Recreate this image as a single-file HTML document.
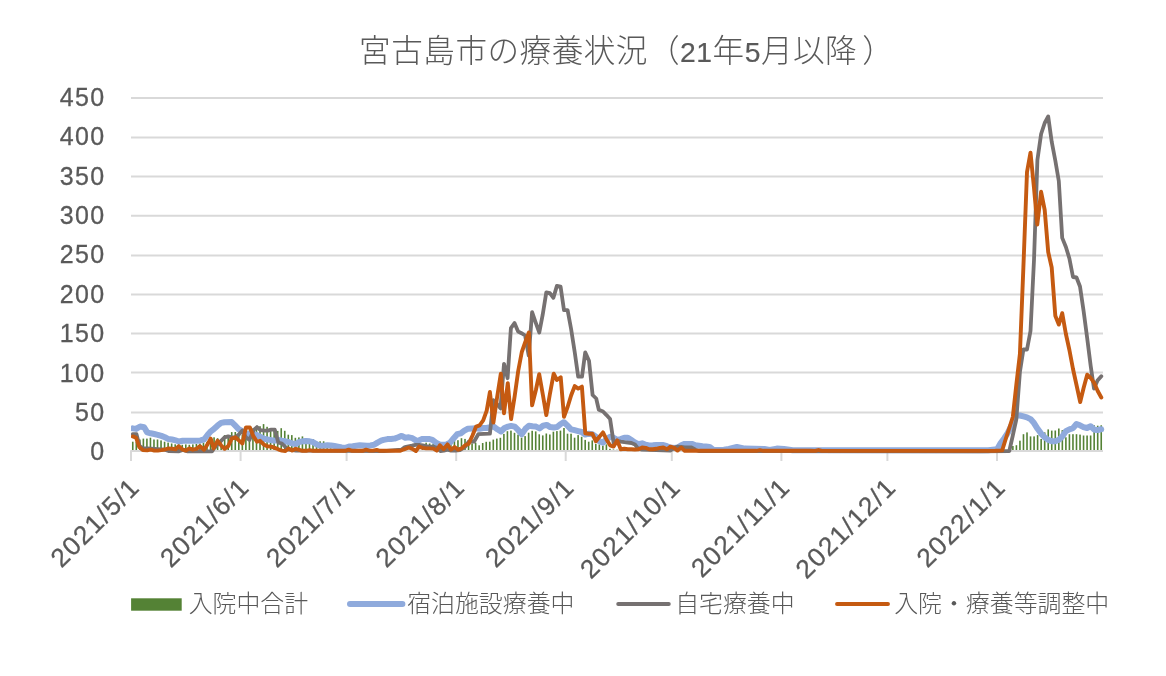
<!DOCTYPE html>
<html lang="ja"><head><meta charset="utf-8"><title>宮古島市の療養状況</title>
<style>
html,body{margin:0;padding:0;background:#fff;}
body{width:1166px;height:676px;overflow:hidden;}
svg{display:block;will-change:transform;}
text{font-family:"Liberation Sans","Noto Sans CJK JP",sans-serif;fill:#595959;}
.jp{font-family:"Liberation Sans","Noto Sans CJK JP",sans-serif;font-weight:300;}
.num{font-family:"Liberation Sans","Noto Sans CJK JP",sans-serif;font-weight:400;}
</style></head><body>
<svg width="1166" height="676" viewBox="0 0 1166 676">

<g stroke="#d9d9d9" stroke-width="2" fill="none">
<line x1="131.0" y1="98.0" x2="1103.0" y2="98.0"/>
<line x1="131.0" y1="137.4" x2="1103.0" y2="137.4"/>
<line x1="131.0" y1="176.5" x2="1103.0" y2="176.5"/>
<line x1="131.0" y1="215.7" x2="1103.0" y2="215.7"/>
<line x1="131.0" y1="255.4" x2="1103.0" y2="255.4"/>
<line x1="131.0" y1="294.6" x2="1103.0" y2="294.6"/>
<line x1="131.0" y1="333.5" x2="1103.0" y2="333.5"/>
<line x1="131.0" y1="372.5" x2="1103.0" y2="372.5"/>
<line x1="131.0" y1="412.5" x2="1103.0" y2="412.5"/>
</g>
<g fill="#548235">
<rect x="131.97" y="441.7" width="1.6" height="8.6"/>
<rect x="135.50" y="441.7" width="1.6" height="8.6"/>
<rect x="139.04" y="439.5" width="1.6" height="10.8"/>
<rect x="142.57" y="438.6" width="1.6" height="11.7"/>
<rect x="146.11" y="438.6" width="1.6" height="11.7"/>
<rect x="149.64" y="437.7" width="1.6" height="12.6"/>
<rect x="153.17" y="439.5" width="1.6" height="10.8"/>
<rect x="156.71" y="439.5" width="1.6" height="10.8"/>
<rect x="160.24" y="440.4" width="1.6" height="9.9"/>
<rect x="163.78" y="441.7" width="1.6" height="8.6"/>
<rect x="167.31" y="442.6" width="1.6" height="7.7"/>
<rect x="170.85" y="443.5" width="1.6" height="6.8"/>
<rect x="174.38" y="444.3" width="1.6" height="6.0"/>
<rect x="177.92" y="444.4" width="1.6" height="5.9"/>
<rect x="181.45" y="444.8" width="1.6" height="5.5"/>
<rect x="184.99" y="444.4" width="1.6" height="5.9"/>
<rect x="188.52" y="444.8" width="1.6" height="5.5"/>
<rect x="192.05" y="444.4" width="1.6" height="5.9"/>
<rect x="195.59" y="444.0" width="1.6" height="6.3"/>
<rect x="199.12" y="443.5" width="1.6" height="6.8"/>
<rect x="202.66" y="442.7" width="1.6" height="7.6"/>
<rect x="206.19" y="441.8" width="1.6" height="8.5"/>
<rect x="209.73" y="438.5" width="1.6" height="11.8"/>
<rect x="213.26" y="437.3" width="1.6" height="13.0"/>
<rect x="216.80" y="438.2" width="1.6" height="12.1"/>
<rect x="220.33" y="439.0" width="1.6" height="11.3"/>
<rect x="223.87" y="435.1" width="1.6" height="15.2"/>
<rect x="227.40" y="435.5" width="1.6" height="14.8"/>
<rect x="230.93" y="432.1" width="1.6" height="18.2"/>
<rect x="234.47" y="432.0" width="1.6" height="18.3"/>
<rect x="238.00" y="435.4" width="1.6" height="14.9"/>
<rect x="241.54" y="434.7" width="1.6" height="15.6"/>
<rect x="245.07" y="432.1" width="1.6" height="18.2"/>
<rect x="248.61" y="430.3" width="1.6" height="20.0"/>
<rect x="252.14" y="428.5" width="1.6" height="21.8"/>
<rect x="255.68" y="426.7" width="1.6" height="23.6"/>
<rect x="259.21" y="426.2" width="1.6" height="24.1"/>
<rect x="262.75" y="424.1" width="1.6" height="26.2"/>
<rect x="266.28" y="426.8" width="1.6" height="23.5"/>
<rect x="269.81" y="428.3" width="1.6" height="22.0"/>
<rect x="273.35" y="429.2" width="1.6" height="21.1"/>
<rect x="276.88" y="430.9" width="1.6" height="19.4"/>
<rect x="280.42" y="428.2" width="1.6" height="22.1"/>
<rect x="283.95" y="430.8" width="1.6" height="19.5"/>
<rect x="287.49" y="434.7" width="1.6" height="15.6"/>
<rect x="291.02" y="435.1" width="1.6" height="15.2"/>
<rect x="294.56" y="437.8" width="1.6" height="12.5"/>
<rect x="298.09" y="437.4" width="1.6" height="12.9"/>
<rect x="301.63" y="436.4" width="1.6" height="13.9"/>
<rect x="305.16" y="439.0" width="1.6" height="11.3"/>
<rect x="308.69" y="439.5" width="1.6" height="10.8"/>
<rect x="312.23" y="439.1" width="1.6" height="11.2"/>
<rect x="315.76" y="441.6" width="1.6" height="8.7"/>
<rect x="319.30" y="441.3" width="1.6" height="9.0"/>
<rect x="322.83" y="441.3" width="1.6" height="9.0"/>
<rect x="326.37" y="446.0" width="1.6" height="4.3"/>
<rect x="329.90" y="448.3" width="1.6" height="2.0"/>
<rect x="333.44" y="449.6" width="1.6" height="0.7"/>
<rect x="336.97" y="450.2" width="1.6" height="0.1"/>
<rect x="340.51" y="450.2" width="1.6" height="0.1"/>
<rect x="344.04" y="450.2" width="1.6" height="0.1"/>
<rect x="347.57" y="450.2" width="1.6" height="0.1"/>
<rect x="351.11" y="450.2" width="1.6" height="0.1"/>
<rect x="354.64" y="450.2" width="1.6" height="0.1"/>
<rect x="358.18" y="450.2" width="1.6" height="0.1"/>
<rect x="361.71" y="450.2" width="1.6" height="0.1"/>
<rect x="365.25" y="450.2" width="1.6" height="0.1"/>
<rect x="368.78" y="450.2" width="1.6" height="0.1"/>
<rect x="372.32" y="450.2" width="1.6" height="0.1"/>
<rect x="375.85" y="450.2" width="1.6" height="0.1"/>
<rect x="379.39" y="450.2" width="1.6" height="0.1"/>
<rect x="382.92" y="450.2" width="1.6" height="0.1"/>
<rect x="386.45" y="450.2" width="1.6" height="0.1"/>
<rect x="389.99" y="450.2" width="1.6" height="0.1"/>
<rect x="393.52" y="450.2" width="1.6" height="0.1"/>
<rect x="397.06" y="450.2" width="1.6" height="0.1"/>
<rect x="400.59" y="450.2" width="1.6" height="0.1"/>
<rect x="404.13" y="450.2" width="1.6" height="0.1"/>
<rect x="407.66" y="450.2" width="1.6" height="0.1"/>
<rect x="411.20" y="450.2" width="1.6" height="0.1"/>
<rect x="414.73" y="450.2" width="1.6" height="0.1"/>
<rect x="418.27" y="449.9" width="1.6" height="0.4"/>
<rect x="421.80" y="443.9" width="1.6" height="6.4"/>
<rect x="425.33" y="442.7" width="1.6" height="7.6"/>
<rect x="428.87" y="443.5" width="1.6" height="6.8"/>
<rect x="432.40" y="443.9" width="1.6" height="6.4"/>
<rect x="435.94" y="444.4" width="1.6" height="5.9"/>
<rect x="439.47" y="444.4" width="1.6" height="5.9"/>
<rect x="443.01" y="443.5" width="1.6" height="6.8"/>
<rect x="446.54" y="441.8" width="1.6" height="8.5"/>
<rect x="450.08" y="438.3" width="1.6" height="12.0"/>
<rect x="453.61" y="435.2" width="1.6" height="15.1"/>
<rect x="457.15" y="440.2" width="1.6" height="10.1"/>
<rect x="460.68" y="438.2" width="1.6" height="12.1"/>
<rect x="464.21" y="438.9" width="1.6" height="11.4"/>
<rect x="467.75" y="442.7" width="1.6" height="7.6"/>
<rect x="471.28" y="443.4" width="1.6" height="6.9"/>
<rect x="474.82" y="442.7" width="1.6" height="7.6"/>
<rect x="478.35" y="445.3" width="1.6" height="5.0"/>
<rect x="481.89" y="443.0" width="1.6" height="7.3"/>
<rect x="485.42" y="441.8" width="1.6" height="8.5"/>
<rect x="488.96" y="441.7" width="1.6" height="8.6"/>
<rect x="492.49" y="439.6" width="1.6" height="10.7"/>
<rect x="496.03" y="438.6" width="1.6" height="11.7"/>
<rect x="499.56" y="437.8" width="1.6" height="12.5"/>
<rect x="503.09" y="433.9" width="1.6" height="16.4"/>
<rect x="506.63" y="431.2" width="1.6" height="19.1"/>
<rect x="510.16" y="430.6" width="1.6" height="19.7"/>
<rect x="513.70" y="432.8" width="1.6" height="17.5"/>
<rect x="517.23" y="434.6" width="1.6" height="15.7"/>
<rect x="520.77" y="437.7" width="1.6" height="12.6"/>
<rect x="524.30" y="436.1" width="1.6" height="14.2"/>
<rect x="527.84" y="432.7" width="1.6" height="17.6"/>
<rect x="531.37" y="430.8" width="1.6" height="19.5"/>
<rect x="534.91" y="431.4" width="1.6" height="18.9"/>
<rect x="538.44" y="434.3" width="1.6" height="16.0"/>
<rect x="541.97" y="435.4" width="1.6" height="14.9"/>
<rect x="545.51" y="433.5" width="1.6" height="16.8"/>
<rect x="549.04" y="434.5" width="1.6" height="15.8"/>
<rect x="552.58" y="431.7" width="1.6" height="18.6"/>
<rect x="556.11" y="431.1" width="1.6" height="19.2"/>
<rect x="559.65" y="430.6" width="1.6" height="19.7"/>
<rect x="563.18" y="428.0" width="1.6" height="22.3"/>
<rect x="566.72" y="433.7" width="1.6" height="16.6"/>
<rect x="570.25" y="433.7" width="1.6" height="16.6"/>
<rect x="573.79" y="437.7" width="1.6" height="12.6"/>
<rect x="577.32" y="435.1" width="1.6" height="15.2"/>
<rect x="580.85" y="436.8" width="1.6" height="13.5"/>
<rect x="584.39" y="439.9" width="1.6" height="10.4"/>
<rect x="587.92" y="441.7" width="1.6" height="8.6"/>
<rect x="591.46" y="440.4" width="1.6" height="9.9"/>
<rect x="594.99" y="443.9" width="1.6" height="6.4"/>
<rect x="598.53" y="444.4" width="1.6" height="5.9"/>
<rect x="602.06" y="445.7" width="1.6" height="4.6"/>
<rect x="605.60" y="444.4" width="1.6" height="5.9"/>
<rect x="609.13" y="448.8" width="1.6" height="1.5"/>
<rect x="612.67" y="449.5" width="1.6" height="0.8"/>
<rect x="616.20" y="449.7" width="1.6" height="0.6"/>
<rect x="619.73" y="450.1" width="1.6" height="0.2"/>
<rect x="623.27" y="450.2" width="1.6" height="0.1"/>
<rect x="626.80" y="450.2" width="1.6" height="0.1"/>
<rect x="630.34" y="450.2" width="1.6" height="0.1"/>
<rect x="633.87" y="450.2" width="1.6" height="0.1"/>
<rect x="637.41" y="450.2" width="1.6" height="0.1"/>
<rect x="640.94" y="450.2" width="1.6" height="0.1"/>
<rect x="644.48" y="450.2" width="1.6" height="0.1"/>
<rect x="648.01" y="450.2" width="1.6" height="0.1"/>
<rect x="651.55" y="450.2" width="1.6" height="0.1"/>
<rect x="655.08" y="450.2" width="1.6" height="0.1"/>
<rect x="658.61" y="450.2" width="1.6" height="0.1"/>
<rect x="662.15" y="450.2" width="1.6" height="0.1"/>
<rect x="665.68" y="450.2" width="1.6" height="0.1"/>
<rect x="669.22" y="450.2" width="1.6" height="0.1"/>
<rect x="672.75" y="450.2" width="1.6" height="0.1"/>
<rect x="676.29" y="450.2" width="1.6" height="0.1"/>
<rect x="679.82" y="450.2" width="1.6" height="0.1"/>
<rect x="683.36" y="450.2" width="1.6" height="0.1"/>
<rect x="686.89" y="450.2" width="1.6" height="0.1"/>
<rect x="690.43" y="450.2" width="1.6" height="0.1"/>
<rect x="693.96" y="450.2" width="1.6" height="0.1"/>
<rect x="697.49" y="450.2" width="1.6" height="0.1"/>
<rect x="701.03" y="450.2" width="1.6" height="0.1"/>
<rect x="704.56" y="450.2" width="1.6" height="0.1"/>
<rect x="708.10" y="450.2" width="1.6" height="0.1"/>
<rect x="711.63" y="450.2" width="1.6" height="0.1"/>
<rect x="715.17" y="450.2" width="1.6" height="0.1"/>
<rect x="718.70" y="450.2" width="1.6" height="0.1"/>
<rect x="722.24" y="450.2" width="1.6" height="0.1"/>
<rect x="725.77" y="450.2" width="1.6" height="0.1"/>
<rect x="729.31" y="450.2" width="1.6" height="0.1"/>
<rect x="732.84" y="450.2" width="1.6" height="0.1"/>
<rect x="736.37" y="450.2" width="1.6" height="0.1"/>
<rect x="739.91" y="450.2" width="1.6" height="0.1"/>
<rect x="743.44" y="450.2" width="1.6" height="0.1"/>
<rect x="746.98" y="450.2" width="1.6" height="0.1"/>
<rect x="750.51" y="450.2" width="1.6" height="0.1"/>
<rect x="754.05" y="450.2" width="1.6" height="0.1"/>
<rect x="757.58" y="450.2" width="1.6" height="0.1"/>
<rect x="761.12" y="450.2" width="1.6" height="0.1"/>
<rect x="764.65" y="450.2" width="1.6" height="0.1"/>
<rect x="768.19" y="450.2" width="1.6" height="0.1"/>
<rect x="771.72" y="450.2" width="1.6" height="0.1"/>
<rect x="775.25" y="450.2" width="1.6" height="0.1"/>
<rect x="778.79" y="450.2" width="1.6" height="0.1"/>
<rect x="782.32" y="450.2" width="1.6" height="0.1"/>
<rect x="785.86" y="450.2" width="1.6" height="0.1"/>
<rect x="789.39" y="450.2" width="1.6" height="0.1"/>
<rect x="792.93" y="450.2" width="1.6" height="0.1"/>
<rect x="796.46" y="450.2" width="1.6" height="0.1"/>
<rect x="800.00" y="450.2" width="1.6" height="0.1"/>
<rect x="803.53" y="450.2" width="1.6" height="0.1"/>
<rect x="807.07" y="450.2" width="1.6" height="0.1"/>
<rect x="810.60" y="450.2" width="1.6" height="0.1"/>
<rect x="814.13" y="450.2" width="1.6" height="0.1"/>
<rect x="817.67" y="450.2" width="1.6" height="0.1"/>
<rect x="821.20" y="450.2" width="1.6" height="0.1"/>
<rect x="824.74" y="450.2" width="1.6" height="0.1"/>
<rect x="828.27" y="450.2" width="1.6" height="0.1"/>
<rect x="831.81" y="450.2" width="1.6" height="0.1"/>
<rect x="835.34" y="450.2" width="1.6" height="0.1"/>
<rect x="838.88" y="450.2" width="1.6" height="0.1"/>
<rect x="842.41" y="450.2" width="1.6" height="0.1"/>
<rect x="845.95" y="450.2" width="1.6" height="0.1"/>
<rect x="849.48" y="450.2" width="1.6" height="0.1"/>
<rect x="853.01" y="450.2" width="1.6" height="0.1"/>
<rect x="856.55" y="450.2" width="1.6" height="0.1"/>
<rect x="860.08" y="450.2" width="1.6" height="0.1"/>
<rect x="863.62" y="450.2" width="1.6" height="0.1"/>
<rect x="867.15" y="450.2" width="1.6" height="0.1"/>
<rect x="870.69" y="450.2" width="1.6" height="0.1"/>
<rect x="874.22" y="450.2" width="1.6" height="0.1"/>
<rect x="877.76" y="450.2" width="1.6" height="0.1"/>
<rect x="881.29" y="450.2" width="1.6" height="0.1"/>
<rect x="884.83" y="450.2" width="1.6" height="0.1"/>
<rect x="888.36" y="450.2" width="1.6" height="0.1"/>
<rect x="891.89" y="450.2" width="1.6" height="0.1"/>
<rect x="895.43" y="450.2" width="1.6" height="0.1"/>
<rect x="898.96" y="450.2" width="1.6" height="0.1"/>
<rect x="902.50" y="450.2" width="1.6" height="0.1"/>
<rect x="906.03" y="450.2" width="1.6" height="0.1"/>
<rect x="909.57" y="450.2" width="1.6" height="0.1"/>
<rect x="913.10" y="450.2" width="1.6" height="0.1"/>
<rect x="916.64" y="450.2" width="1.6" height="0.1"/>
<rect x="920.17" y="450.2" width="1.6" height="0.1"/>
<rect x="923.71" y="450.2" width="1.6" height="0.1"/>
<rect x="927.24" y="450.2" width="1.6" height="0.1"/>
<rect x="930.77" y="450.2" width="1.6" height="0.1"/>
<rect x="934.31" y="450.2" width="1.6" height="0.1"/>
<rect x="937.84" y="450.2" width="1.6" height="0.1"/>
<rect x="941.38" y="450.2" width="1.6" height="0.1"/>
<rect x="944.91" y="450.2" width="1.6" height="0.1"/>
<rect x="948.45" y="450.2" width="1.6" height="0.1"/>
<rect x="951.98" y="450.2" width="1.6" height="0.1"/>
<rect x="955.52" y="450.2" width="1.6" height="0.1"/>
<rect x="959.05" y="450.2" width="1.6" height="0.1"/>
<rect x="962.59" y="450.2" width="1.6" height="0.1"/>
<rect x="966.12" y="450.2" width="1.6" height="0.1"/>
<rect x="969.65" y="450.2" width="1.6" height="0.1"/>
<rect x="973.19" y="450.2" width="1.6" height="0.1"/>
<rect x="976.72" y="450.2" width="1.6" height="0.1"/>
<rect x="980.26" y="450.2" width="1.6" height="0.1"/>
<rect x="983.79" y="450.2" width="1.6" height="0.1"/>
<rect x="987.33" y="450.2" width="1.6" height="0.1"/>
<rect x="990.86" y="450.2" width="1.6" height="0.1"/>
<rect x="994.40" y="450.2" width="1.6" height="0.1"/>
<rect x="997.93" y="450.2" width="1.6" height="0.1"/>
<rect x="1001.47" y="450.2" width="1.6" height="0.1"/>
<rect x="1005.00" y="450.1" width="1.6" height="0.2"/>
<rect x="1008.53" y="447.9" width="1.6" height="2.4"/>
<rect x="1012.07" y="446.0" width="1.6" height="4.3"/>
<rect x="1015.60" y="445.2" width="1.6" height="5.1"/>
<rect x="1019.14" y="440.7" width="1.6" height="9.6"/>
<rect x="1022.67" y="434.2" width="1.6" height="16.1"/>
<rect x="1026.21" y="432.4" width="1.6" height="17.9"/>
<rect x="1029.74" y="436.4" width="1.6" height="13.9"/>
<rect x="1033.28" y="436.4" width="1.6" height="13.9"/>
<rect x="1036.81" y="435.1" width="1.6" height="15.2"/>
<rect x="1040.35" y="439.0" width="1.6" height="11.3"/>
<rect x="1043.88" y="432.4" width="1.6" height="17.9"/>
<rect x="1047.41" y="429.4" width="1.6" height="20.9"/>
<rect x="1050.95" y="430.6" width="1.6" height="19.7"/>
<rect x="1054.48" y="430.5" width="1.6" height="19.8"/>
<rect x="1058.02" y="428.5" width="1.6" height="21.8"/>
<rect x="1061.55" y="430.1" width="1.6" height="20.2"/>
<rect x="1065.09" y="437.3" width="1.6" height="13.0"/>
<rect x="1068.62" y="434.2" width="1.6" height="16.1"/>
<rect x="1072.16" y="434.2" width="1.6" height="16.1"/>
<rect x="1075.69" y="434.2" width="1.6" height="16.1"/>
<rect x="1079.23" y="434.6" width="1.6" height="15.7"/>
<rect x="1082.76" y="435.5" width="1.6" height="14.8"/>
<rect x="1086.29" y="435.5" width="1.6" height="14.8"/>
<rect x="1089.83" y="435.5" width="1.6" height="14.8"/>
<rect x="1093.36" y="425.3" width="1.6" height="25.0"/>
<rect x="1096.90" y="425.7" width="1.6" height="24.6"/>
<rect x="1100.43" y="425.3" width="1.6" height="25.0"/>
</g>
<g stroke="#d9d9d9" stroke-width="2" fill="none"><line x1="130.25" y1="451.0" x2="1103.0" y2="451.0"/>
<line x1="131.0" y1="451.0" x2="131.0" y2="461"/>
<line x1="240.6" y1="451.0" x2="240.6" y2="461"/>
<line x1="346.6" y1="451.0" x2="346.6" y2="461"/>
<line x1="456.2" y1="451.0" x2="456.2" y2="461"/>
<line x1="565.7" y1="451.0" x2="565.7" y2="461"/>
<line x1="671.8" y1="451.0" x2="671.8" y2="461"/>
<line x1="781.4" y1="451.0" x2="781.4" y2="461"/>
<line x1="887.4" y1="451.0" x2="887.4" y2="461"/>
<line x1="997.0" y1="451.0" x2="997.0" y2="461"/>
</g>
<clipPath id="pc"><rect x="131" y="0" width="990" height="470"/></clipPath>
<g fill="none" stroke-linejoin="round" stroke-linecap="round" clip-path="url(#pc)">
<polyline stroke="#8faadc" stroke-width="6" points="132.8,428.4 136.1,428.9 140.1,426.5 144.1,427.2 147.2,432.4 150.7,433.3 154.3,434.0 157.8,434.8 161.4,435.9 164.9,437.3 168.5,439.1 172.0,439.5 175.6,440.4 179.1,441.5 182.7,440.8 186.2,440.8 189.8,440.8 193.3,440.8 196.9,440.7 200.4,440.4 204.0,439.5 207.5,435.1 211.1,431.1 213.6,429.3 217.5,425.7 221.1,422.9 224.6,422.2 231.7,422.0 235.3,425.7 238.8,429.3 242.4,431.1 245.9,433.3 249.5,434.2 253.0,434.4 256.6,434.8 260.1,436.8 263.7,438.6 267.7,439.5 271.2,440.1 274.8,440.7 278.3,439.9 281.9,440.7 285.4,441.3 289.0,442.2 292.5,443.5 296.1,443.9 298.6,442.2 302.5,441.3 306.1,441.0 309.6,441.3 313.2,442.2 316.7,444.4 320.3,445.7 323.8,445.7 327.4,445.3 330.9,445.4 334.5,446.0 338.0,446.6 341.6,447.5 345.6,447.9 349.1,446.6 352.7,446.2 356.2,445.7 359.8,445.3 363.3,445.4 366.9,445.7 370.4,445.4 374.0,444.8 377.5,442.6 381.1,440.7 383.6,439.9 387.5,439.1 391.1,438.9 394.6,438.6 398.2,437.3 401.7,435.9 405.3,437.7 408.8,437.3 412.4,438.2 415.9,440.4 418.2,440.8 421.7,439.1 425.3,438.9 428.8,438.9 432.4,439.9 435.9,442.6 439.5,444.4 443.0,444.8 446.6,444.4 450.1,442.6 453.7,438.2 457.2,434.2 460.8,433.3 464.3,430.6 467.9,428.8 472.5,428.4 476.1,428.2 479.6,428.8 483.2,428.0 486.7,428.0 490.3,427.1 493.8,426.6 497.4,429.3 500.9,431.5 504.5,428.0 508.0,426.6 511.2,425.9 514.7,426.6 518.3,430.2 521.8,434.2 525.4,428.8 528.9,425.7 532.5,426.2 536.0,426.6 539.6,428.4 543.1,425.7 546.7,424.9 550.2,427.1 553.8,427.5 557.1,427.1 560.7,424.0 563.9,422.2 567.5,425.7 571.0,429.3 574.6,430.2 578.1,431.1 581.7,432.0 585.2,434.6 588.8,433.7 592.3,434.2 595.9,436.8 599.4,441.3 603.0,442.6 606.5,439.1 610.1,436.8 613.6,437.7 617.2,439.9 620.7,439.1 624.3,437.7 627.8,437.7 631.4,440.1 634.9,442.4 638.5,444.2 642.1,443.3 645.7,444.8 649.2,445.4 652.8,445.3 656.3,445.1 659.9,445.1 663.4,445.1 667.0,446.2 670.5,447.5 674.1,447.9 677.6,447.5 681.2,445.3 684.7,443.9 688.3,443.9 691.8,443.9 695.4,445.3 698.9,445.7 702.5,446.2 706.0,446.6 709.6,447.0 713.1,449.7 716.7,450.1 720.2,450.1 723.8,449.7 728.9,449.0 736.9,447.0 744.9,448.6 764.4,449.0 769.7,449.9 776.8,448.6 783.9,449.0 792.8,450.3 810.0,450.3 980.0,450.3 988.3,450.3 997.2,449.3 1000.7,443.0 1004.3,438.2 1007.8,432.8 1011.4,425.7 1014.9,417.8 1017.2,415.5 1019.9,415.5 1023.5,416.4 1027.0,417.3 1030.5,419.1 1034.0,423.1 1037.6,428.8 1041.1,433.6 1044.7,437.3 1048.2,439.9 1051.8,441.3 1055.3,441.3 1058.9,439.8 1062.4,436.4 1065.9,431.1 1069.4,429.3 1073.0,428.2 1076.5,424.0 1080.0,425.3 1083.5,427.1 1087.1,428.0 1090.6,426.2 1094.2,429.7 1097.7,430.0 1101.2,429.3"/>
<polyline stroke="#767171" stroke-width="3.8" points="132.8,434.2 136.5,434.2 139.6,446.2 143.6,448.4 147.2,448.4 164.9,449.7 168.5,451.0 179.1,451.3 182.7,449.9 187.1,451.3 212.0,451.3 214.0,448.4 217.5,444.4 221.1,440.8 224.6,437.3 228.2,436.4 231.7,437.3 235.3,437.3 238.8,434.6 242.4,430.6 245.9,437.3 249.5,439.9 253.5,430.2 257.0,427.1 260.6,430.2 264.1,430.6 267.7,430.6 271.2,429.7 274.8,429.7 278.3,442.6 281.9,443.5 285.4,447.0 289.0,449.7 292.5,450.1 296.1,450.6 383.8,451.1 401.3,449.7 404.9,447.0 412.0,445.7 415.5,444.8 419.1,444.8 422.6,445.3 426.2,446.2 429.7,446.6 433.3,446.6 436.8,447.9 440.4,451.0 443.9,450.6 447.5,449.7 451.0,450.6 455.4,450.6 459.9,450.1 463.4,447.9 465.0,447.0 468.6,441.7 474.0,441.7 478.3,434.2 489.9,433.7 493.4,400.2 497.0,404.0 500.5,408.4 504.0,363.8 507.6,378.2 510.9,328.1 514.5,323.1 518.1,331.5 521.5,333.2 525.1,335.5 528.7,355.5 532.1,312.2 535.7,322.6 539.3,332.5 542.7,314.7 546.3,292.4 549.9,293.2 553.4,297.8 556.9,285.9 560.6,286.7 564.0,310.2 567.6,310.2 571.1,329.0 574.7,352.0 578.2,376.7 582.0,376.7 585.2,352.4 589.0,360.8 592.6,395.0 596.2,398.5 598.8,409.8 603.0,411.5 606.5,415.1 610.1,419.1 613.6,442.6 617.2,440.8 620.7,441.7 624.3,442.2 627.8,442.6 631.4,443.0 634.9,444.4 637.9,448.4 642.1,449.7 670.5,450.6 674.1,447.9 677.6,446.6 681.2,447.0 684.7,447.5 688.3,447.5 691.8,447.5 695.4,449.7 698.9,451.0 725.0,451.1 810.0,451.1 980.0,451.3 1009.3,451.0 1012.8,435.5 1016.3,419.5 1019.9,372.0 1023.4,349.5 1027.0,349.5 1030.5,331.0 1034.0,260.0 1037.4,160.0 1041.1,134.0 1044.7,123.0 1048.2,116.4 1051.7,141.7 1055.3,160.5 1058.8,181.0 1062.2,237.9 1065.9,247.0 1069.4,258.5 1073.0,277.0 1076.5,277.5 1080.0,286.5 1083.6,311.0 1087.1,337.5 1090.7,366.0 1094.0,388.6 1097.5,380.5 1101.3,376.2"/>
<polyline stroke="#c55a11" stroke-width="3.9" points="132.8,436.4 136.1,437.7 139.2,447.0 142.8,450.1 147.2,450.4 150.7,449.7 154.3,450.6 157.8,450.6 161.4,450.1 164.9,449.5 168.5,448.4 172.0,448.8 175.6,449.3 178.7,446.2 182.2,449.3 185.8,450.6 189.3,448.4 192.9,449.7 196.4,448.8 200.0,446.2 204.0,449.7 207.5,444.4 210.7,438.6 213.6,448.4 217.5,440.8 221.1,445.3 224.6,448.8 228.2,446.2 231.7,438.6 235.3,437.3 238.8,440.4 242.4,443.5 245.9,427.5 249.9,427.5 253.5,436.4 257.0,441.7 260.1,440.8 263.7,444.4 267.2,446.2 271.2,446.6 274.8,447.9 278.3,449.3 281.9,450.6 285.4,451.0 288.6,448.4 292.1,450.6 295.7,448.8 298.6,449.7 302.5,450.8 306.1,450.8 309.6,450.2 313.2,450.8 345.1,450.8 348.7,449.7 352.2,450.8 362.5,450.8 366.0,449.7 369.6,450.6 373.1,450.6 376.7,449.9 380.2,450.8 400.4,450.8 404.0,449.3 408.8,447.5 412.4,448.8 415.9,451.0 419.1,446.6 422.6,447.9 426.2,448.4 429.7,448.4 433.3,448.6 436.8,450.6 439.9,445.3 443.5,449.3 447.5,444.4 451.0,449.7 454.6,447.0 458.1,449.7 461.7,448.4 465.0,445.3 468.6,443.9 472.5,435.5 476.1,426.6 479.6,425.3 483.2,420.4 486.7,410.7 489.9,392.0 493.4,422.6 497.0,398.0 500.8,373.7 504.0,413.3 507.8,383.1 511.1,419.1 514.7,396.0 518.2,371.0 521.8,352.0 525.3,342.0 528.9,332.5 532.1,405.3 535.9,390.0 539.2,374.2 542.9,395.0 546.3,415.1 549.9,394.0 553.7,373.7 556.9,380.0 560.7,377.2 564.0,416.9 567.6,407.0 571.1,395.5 574.7,386.1 578.2,388.6 581.9,386.6 585.3,433.3 588.8,433.7 592.3,433.7 595.9,441.3 599.4,436.8 603.0,432.4 606.5,439.5 610.1,445.3 613.6,446.6 617.2,440.4 620.7,449.3 624.3,448.8 627.8,449.3 631.4,449.3 634.9,449.5 638.5,449.3 642.1,447.5 645.7,447.9 649.2,449.3 652.8,449.3 656.3,448.8 659.9,447.9 663.4,447.5 667.0,449.3 670.5,446.6 674.1,447.9 677.6,450.6 681.2,447.5 684.7,450.8 725.0,450.8 756.4,450.8 759.9,450.2 763.5,450.8 810.0,450.8 815.4,450.9 818.5,450.0 821.6,450.9 980.0,450.9 995.4,450.8 1002.2,450.4 1005.7,439.0 1009.3,428.0 1012.8,417.0 1016.3,385.0 1019.9,354.0 1023.4,267.0 1027.0,172.0 1030.5,152.6 1034.0,188.0 1037.3,224.5 1041.1,191.8 1044.7,210.0 1048.2,252.0 1051.7,267.5 1055.3,315.7 1058.8,324.6 1062.2,313.2 1065.9,334.0 1069.4,350.0 1073.0,369.0 1076.5,385.0 1080.2,402.0 1083.6,388.0 1087.2,374.7 1090.7,378.0 1094.2,383.0 1097.7,391.0 1101.3,397.5"/>
</g>
<text class="jp" x="359.1" y="61.5" font-size="31.6" letter-spacing="0.5">宮古島市の療養状況（<tspan class="num" font-size="28.3" stroke="#595959" stroke-width="0.2">21</tspan>年<tspan class="num" font-size="28.3" stroke="#595959" stroke-width="0.2">5</tspan>月以降<tspan dx="5">）</tspan></text>
<g class="num" font-size="25" text-anchor="end" letter-spacing="1.4" stroke="#595959" stroke-width="0.3">
<text x="105.6" y="105.9">450</text>
<text x="105.6" y="145.3">400</text>
<text x="105.6" y="184.7">350</text>
<text x="105.6" y="224.1">300</text>
<text x="105.6" y="263.4">250</text>
<text x="105.6" y="302.8">200</text>
<text x="105.6" y="342.2">150</text>
<text x="105.6" y="381.6">100</text>
<text x="105.6" y="421.0">50</text>
<text x="105.6" y="460.4">0</text>
</g>
<g class="num" font-size="26.2" text-anchor="end" letter-spacing="1.4" stroke="#595959" stroke-width="0.3">
<text transform="translate(141.4,488.8) rotate(-45)" x="0" y="0">2021/5/1</text>
<text transform="translate(251.0,488.8) rotate(-45)" x="0" y="0">2021/6/1</text>
<text transform="translate(357.0,488.8) rotate(-45)" x="0" y="0">2021/7/1</text>
<text transform="translate(466.6,488.8) rotate(-45)" x="0" y="0">2021/8/1</text>
<text transform="translate(576.1,488.8) rotate(-45)" x="0" y="0">2021/9/1</text>
<text transform="translate(682.2,488.8) rotate(-45)" x="0" y="0">2021/10/1</text>
<text transform="translate(791.8,488.8) rotate(-45)" x="0" y="0">2021/11/1</text>
<text transform="translate(897.8,488.8) rotate(-45)" x="0" y="0">2021/12/1</text>
<text transform="translate(1007.4,488.8) rotate(-45)" x="0" y="0">2022/1/1</text>
</g>
<rect x="131.1" y="598.3" width="50.6" height="12.4" fill="#548235"/>
<g fill="none" stroke-linecap="round">
<line x1="350" y1="604" x2="402.4" y2="604" stroke="#8faadc" stroke-width="6"/>
<line x1="618.2" y1="604" x2="668.8" y2="604" stroke="#767171" stroke-width="3.9"/>
<line x1="837" y1="604" x2="888" y2="604" stroke="#c55a11" stroke-width="3.9"/>
</g>
<g class="jp" font-size="23.9">
<text x="188.7" y="611.7">入院中合計</text>
<text x="407.2" y="611.7">宿泊施設療養中</text>
<text x="675.2" y="611.7">自宅療養中</text>
<text x="894.2" y="611.7">入院・療養等調整中</text>
</g>
</svg></body></html>
